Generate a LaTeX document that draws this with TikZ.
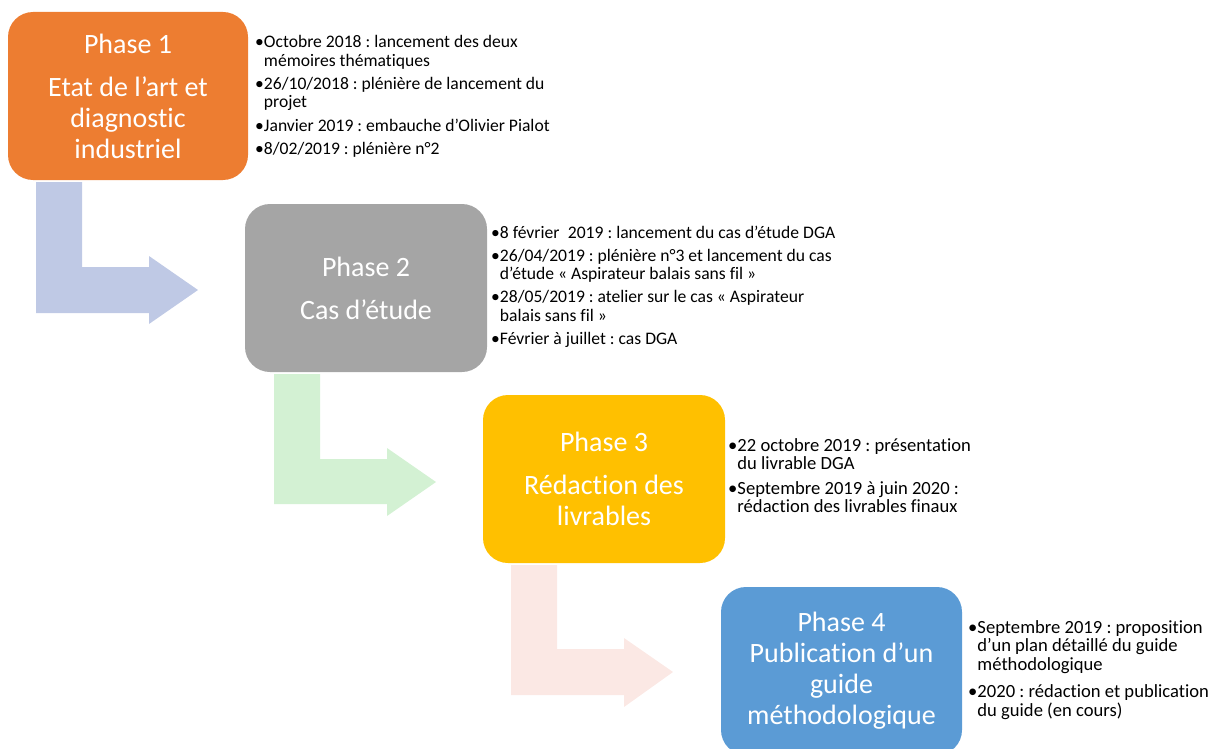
\documentclass[tikz,border=0pt]{standalone}
\usepackage{fontspec}
\setmainfont{Carlito}[Ligatures={NoCommon,NoRare,NoDiscretionary}]
\definecolor{cOrange}{HTML}{ED7D31}
\definecolor{cGray}{HTML}{A5A5A5}
\definecolor{cGold}{HTML}{FFC000}
\definecolor{cBlue}{HTML}{5B9BD5}
\definecolor{aBlue}{HTML}{BFC9E5}
\definecolor{aGreen}{HTML}{D3F1D3}
\definecolor{aPink}{HTML}{FBE8E4}
\newlength\bw
\newcommand\bitem[1]{\par\noindent\hangindent=\bw\hangafter=1 •#1\par}
\newcommand\gap[1][5pt]{\vspace{#1}}
% #1 font size, #2 baselineskip, #3 width, #4 items
\newcommand\blist[4]{\vtop{\hsize=#3pt\parindent=0pt\parskip=0pt\raggedright\frenchspacing
  \fontsize{#1}{#2}\selectfont\settowidth{\bw}{•}#4}}
\begin{document}
\begin{tikzpicture}[x=1pt,y=-1pt,
  phasebox/.style={rounded corners=25pt, text=white, align=center, inner sep=0pt,
    minimum height=168pt, font=\fontsize{28}{31}\selectfont},
  listtext/.style={anchor=base west, inner sep=0pt}]
\useasboundingbox (0,0) rectangle (1220,749);
\clip (0,0) rectangle (1220,749);

% bent arrows
\fill[aBlue] (36,182) -- (82,182) -- (82,267) -- (149,267) -- (149,256) -- (198,290)
  -- (149,324) -- (149,313) -- (36,313) -- cycle;
\fill[aGreen] (274,374) -- (320,374) -- (320,459) -- (387,459) -- (387,448) -- (436,482)
  -- (387,516) -- (387,504) -- (274,504) -- cycle;
\fill[aPink] (511,565) -- (557,565) -- (557,649) -- (624,649) -- (624,638) -- (673,672)
  -- (624,707) -- (624,695) -- (511,695) -- cycle;

% phase boxes
\node[phasebox, fill=cOrange, minimum width=240pt] (p1) at (128,96)
  {Phase 1\\[12pt]Etat de l’art et\\diagnostic\\industriel};
\node[phasebox, fill=cGray, minimum width=242pt] (p2) at (366,288)
  {Phase 2\\[12pt]Cas d’étude};
\node[phasebox, fill=cGold, minimum width=242pt] (p3) at (604,479)
  {Phase 3\\[12pt]Rédaction des\\livrables};
\node[phasebox, fill=cBlue, minimum width=241pt] (p4) at (841.5,671)
  {Phase 4\\Publication d’un\\guide\\méthodologique};

% lists
\node[listtext] (l1) at (255,48) {\blist{17.6}{18.3}{310}{%
  \bitem{Octobre 2018 : lancement des deux\newline mémoires thématiques}\gap
  \bitem{26/10/2018 : plénière de lancement du\newline projet}\gap
  \bitem{Janvier 2019 : embauche d’Olivier Pialot}\gap
  \bitem{8/02/2019 : plénière n°2}}};
\node[listtext] (l2) at (491,238) {\blist{17.6}{18.3}{380}{%
  \bitem{8 février\hspace{0.25em} 2019 : lancement du cas d’étude DGA}\gap
  \bitem{26/04/2019 : plénière n°3 et lancement du cas\newline d’étude « Aspirateur balais sans fil »}\gap
  \bitem{28/05/2019 : atelier sur le cas « Aspirateur\newline balais sans fil »}\gap
  \bitem{Février à juillet : cas DGA}}};
\node[listtext] (l3) at (728,451) {\blist{18.6}{18.3}{270}{%
  \bitem{22 octobre 2019 : présentation\newline du livrable DGA}\gap[7pt]
  \bitem{Septembre 2019 à juin 2020 :\newline rédaction des livrables finaux}}};
\node[listtext] (l4) at (968,633) {\blist{18.6}{18.8}{252}{%
  \bitem{Septembre 2019 : proposition\newline d’un plan détaillé du guide\newline méthodologique}\gap[8.5pt]
  \bitem{2020 : rédaction et publication\newline du guide (en cours)}}};
\end{tikzpicture}
\end{document}
